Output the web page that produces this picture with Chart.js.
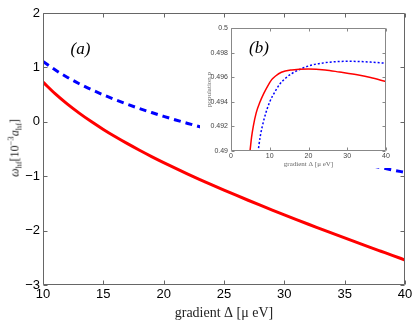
<!DOCTYPE html>
<html>
<head>
<meta charset="utf-8">
<script src="https://cdn.jsdelivr.net/npm/chart.js@4"></script>
<style>
html, body { margin: 0; padding: 0; background: #fff; }
#wrap { position: relative; width: 415px; height: 325px; }
#main { position: absolute; left: 0; top: 0; }
#inset { position: absolute; left: 200px; top: 18px; background: #fff; }
#ylab {
  position: absolute; left: 15px; top: 148px;
  transform: translate(-50%, -50%) rotate(-90deg);
  font: 12px 'Liberation Serif', serif; color: #222; white-space: nowrap;
}
#ylab sub, #ylab sup { font-size: 8.5px; line-height: 0; }
</style>
</head>
<body>
<div id="wrap">
  <canvas id="main" width="415" height="325"></canvas>
  <canvas id="inset" width="195" height="150"></canvas>
  <div id="ylab"><i>ω</i><sub>hf</sub>[10<sup>−3</sup><i>a</i><sub>hf</sub>]</div>
</div>
<script>
// main panel (a)
const mainX = [10, 11, 12, 13, 14, 15, 16, 17, 18, 19, 20, 21, 22, 23, 24, 25,
               26, 27, 28, 29, 30, 31, 32, 33, 34, 35, 36, 37, 38, 39, 40];
const redMain = [0.730, 0.518, 0.330, 0.160, 0.004, -0.140, -0.275, -0.402, -0.523, -0.639, -0.750,
                 -0.857, -0.961, -1.062, -1.160, -1.256, -1.350, -1.442, -1.533, -1.622, -1.710,
                 -1.797, -1.883, -1.967, -2.051, -2.134, -2.217, -2.298, -2.379, -2.460, -2.540];
const blueMain = [1.110, 0.955, 0.820, 0.700, 0.593, 0.495, 0.405, 0.321, 0.243, 0.170, 0.100,
                  0.034, -0.030, -0.091, -0.150, -0.207, -0.262, -0.316, -0.369, -0.420, -0.470,
                  -0.519, -0.568, -0.615, -0.662, -0.708, -0.753, -0.798, -0.843, -0.887, -0.930];
const mainXTicks = [10, 15, 20, 25, 30, 35, 40];
const mainYTicks = [-3, -2, -1, 0, 1, 2];

// inset panel (b)
const redInsetX = [4.6, 4.9, 5.3, 5.75, 6.5, 7.5, 8.5, 9.5, 10.5, 11.5, 13, 15.7, 20, 24.3, 28, 32.9, 36, 40];
const redInsetY = [0.4893, 0.4900, 0.4911, 0.4920, 0.4931, 0.4940, 0.4947, 0.4953, 0.4958, 0.4961,
                   0.4964, 0.49659, 0.49667, 0.49659, 0.49642, 0.49618, 0.49598, 0.49564];
const blueInsetX = [6.8, 7.0, 7.5, 8.07, 9, 10, 11.5, 12.5, 14, 15.7, 18.2, 21, 24.3, 27, 30, 33, 36, 40];
const blueInsetY = [0.4896, 0.4900, 0.4911, 0.4920, 0.4931, 0.4940, 0.4949, 0.4954, 0.4959, 0.4963,
                    0.4967, 0.4970, 0.49718, 0.49726, 0.49729, 0.49728, 0.49723, 0.49713];
const insetXTicks = [0, 10, 20, 30, 40];
const insetYTicks = [0.49, 0.492, 0.494, 0.496, 0.498, 0.5];
const insetYLabels = ['0.49', '0.492', '0.494', '0.496', '0.498', '0.5'];

function pts(xs, ys) {
  return xs.map((x, i) => ({ x: x, y: ys[i] }));
}

// box round the plot with inward ticks on all four sides, plus the panel letter
const frame = {
  id: 'frame',
  afterDatasetsDraw(chart, args, o) {
    const ctx = chart.ctx;
    const a = chart.chartArea;
    const sx = chart.scales.x, sy = chart.scales.y;
    const l = Math.round(a.left) + 0.5, r = Math.round(a.right) - 0.5;
    const t = Math.round(a.top) + 0.5, b = Math.round(a.bottom) - 0.5;
    ctx.save();
    ctx.strokeStyle = o.color;
    ctx.lineWidth = 1;
    ctx.beginPath();
    ctx.rect(l, t, r - l, b - t);
    sx.ticks.forEach(tk => {
      const px = Math.round(sx.getPixelForValue(tk.value)) + 0.5;
      ctx.moveTo(px, b); ctx.lineTo(px, b - o.len);
      ctx.moveTo(px, t); ctx.lineTo(px, t + o.len);
    });
    sy.ticks.forEach(tk => {
      const py = Math.round(sy.getPixelForValue(tk.value)) + 0.5;
      ctx.moveTo(l, py); ctx.lineTo(l + o.len, py);
      ctx.moveTo(r, py); ctx.lineTo(r - o.len, py);
    });
    ctx.stroke();
    ctx.fillStyle = '#000';
    ctx.font = o.font;
    ctx.textAlign = 'center';
    ctx.textBaseline = 'middle';
    ctx.fillText(o.label, sx.getPixelForValue(o.lx), sy.getPixelForValue(o.ly));
    ctx.restore();
  }
};

const noGrid = { display: false, drawTicks: false, tickLength: 0 };

new Chart(document.getElementById('main'), {
  type: 'line',
  data: {
    datasets: [{
      data: pts(mainX, redMain),
      borderColor: '#ff0000',
      borderWidth: 3,
      pointRadius: 0,
      cubicInterpolationMode: 'monotone'
    }, {
      data: pts(mainX, blueMain),
      borderColor: '#0000ff',
      borderWidth: 3,
      borderDash: [7, 5],
      pointRadius: 0,
      cubicInterpolationMode: 'monotone'
    }]
  },
  options: {
    responsive: false,
    animation: false,
    layout: { padding: { left: 0, top: 13, right: 10, bottom: 0 } },
    plugins: {
      legend: { display: false },
      tooltip: { enabled: false },
      frame: { color: '#666', len: 4, label: '(a)', lx: 13.1, ly: 1.33,
               font: 'italic 17px "Liberation Serif"' }
    },
    scales: {
      x: {
        type: 'linear', min: 10, max: 40,
        afterBuildTicks: s => { s.ticks = mainXTicks.map(v => ({ value: v })); },
        afterFit: s => { s.height = 40; },
        grid: noGrid,
        border: { display: false },
        ticks: { color: '#000', padding: 2, font: { family: 'Liberation Sans', size: 13 } },
        title: { display: true, text: 'gradient Δ [μ eV]', color: '#222',
                 font: { family: 'Liberation Serif', size: 14 }, padding: { top: 0, bottom: 3 } }
      },
      y: {
        type: 'linear', min: -3, max: 2,
        afterBuildTicks: s => { s.ticks = mainYTicks.map(v => ({ value: v })); },
        afterFit: s => { s.width = 43; },
        grid: noGrid,
        border: { display: false },
        ticks: { color: '#000', padding: 3, font: { family: 'Liberation Sans', size: 13 },
                 callback: v => String(v).replace('-', '−') }
      }
    }
  },
  plugins: [frame]
});

new Chart(document.getElementById('inset'), {
  type: 'line',
  data: {
    datasets: [{
      data: pts(redInsetX, redInsetY),
      borderColor: '#ff0000',
      borderWidth: 1.5,
      pointRadius: 0,
      cubicInterpolationMode: 'monotone'
    }, {
      data: pts(blueInsetX, blueInsetY),
      borderColor: '#0000ff',
      borderWidth: 1.5,
      borderDash: [2, 2],
      pointRadius: 0,
      cubicInterpolationMode: 'monotone'
    }]
  },
  options: {
    responsive: false,
    animation: false,
    layout: { padding: { left: 0, top: 10, right: 9, bottom: 0 } },
    plugins: {
      legend: { display: false },
      tooltip: { enabled: false },
      frame: { color: '#888', len: 3, label: '(b)', lx: 7.2, ly: 0.49837,
               font: 'italic 17px "Liberation Serif"' }
    },
    scales: {
      x: {
        type: 'linear', min: 0, max: 40,
        afterBuildTicks: s => { s.ticks = insetXTicks.map(v => ({ value: v })); },
        afterFit: s => { s.height = 17; },
        grid: noGrid,
        border: { display: false },
        ticks: { color: '#444', padding: 1, font: { family: 'Liberation Sans', size: 7 } },
        title: { display: true, text: 'gradient Δ [μ eV]', color: '#666',
                 font: { family: 'Liberation Serif', size: 7 }, padding: { top: 0, bottom: 0 } }
      },
      y: {
        type: 'linear', min: 0.49, max: 0.5,
        afterBuildTicks: s => { s.ticks = insetYTicks.map(v => ({ value: v })); },
        afterFit: s => { s.width = 31; },
        grid: noGrid,
        border: { display: false },
        ticks: { color: '#444', padding: 3, font: { family: 'Liberation Sans', size: 7 },
                 callback: (v, i) => insetYLabels[i] },
        title: { display: true, text: 'population p', color: '#666',
                 font: { family: 'Liberation Serif', size: 7 }, padding: { top: 5, bottom: 0 } }
      }
    }
  },
  plugins: [frame]
});
</script>
</body>
</html>
